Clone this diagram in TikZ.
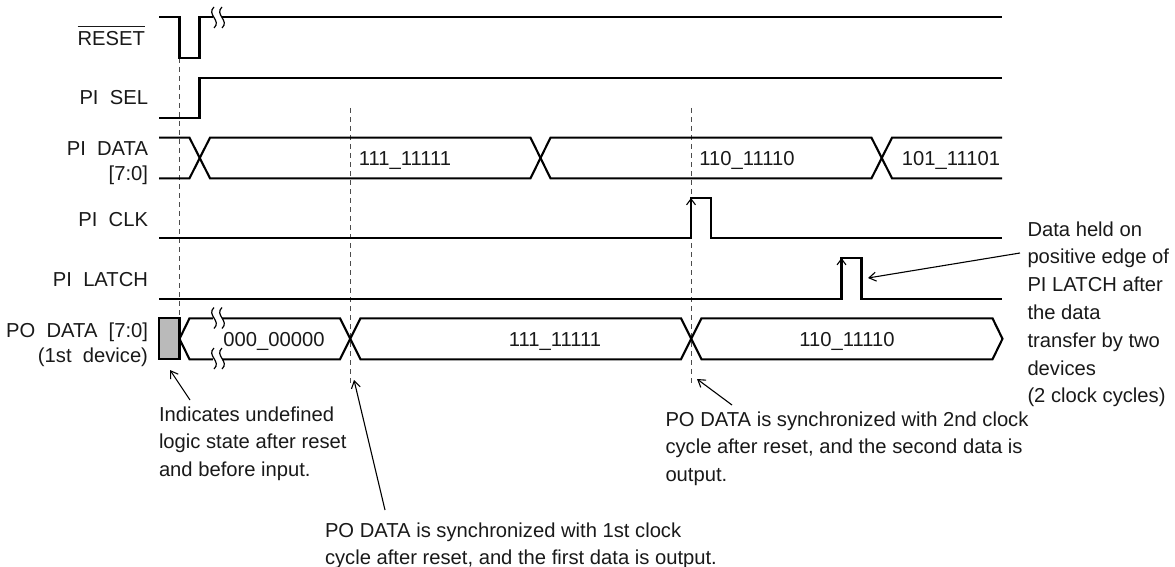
\documentclass[tikz,border=0pt]{standalone}
\usepackage{fontspec}
\setmainfont{Liberation Sans}
\usetikzlibrary{arrows.meta}
\tikzset{
  x=1pt,y=-1pt,
  wave/.style={line width=2.1pt,line join=miter,black},
  guide/.style={line width=1pt,dash pattern=on 5pt off 4pt,black!70},
  breakmark/.style={line width=1.2pt,black},
  callout/.style={line width=1.1pt,-{Straight Barb[length=7pt,width=9pt]}},
  edgemark/.style={line width=1.1pt,-{Straight Barb[length=6pt,width=9pt]}},
  txt/.style={inner sep=0pt,outer sep=0pt,text=black!90,font=\fontsize{20.2}{27.8}\selectfont},
  sig/.style={txt,align=right,anchor=base east},
  sigtwo/.style={txt,align=right,anchor=north east,font=\fontsize{20.2}{25}\selectfont},
  note/.style={txt,align=left,anchor=north west},
  bits/.style={txt,anchor=base},
}
\newcommand{\brk}[2]{%
  \fill[white] (#1-1,#2-10) rectangle (#1+8,#2+11);
  \draw[breakmark] (#1,#2-10.5) .. controls (#1-8,#2-3) and (#1+8,#2+3) .. (#1,#2+10.5);
  \draw[breakmark] (#1+8,#2-10.5) .. controls (#1,#2-3) and (#1+16,#2+3) .. (#1+8,#2+10.5);
}
\begin{document}
\begin{tikzpicture}
\useasboundingbox (0,0) rectangle (1175,567);
% guides
\coordinate (g1a) at (179.5,58); \coordinate (g1b) at (179.5,318);
\coordinate (g2a) at (350,108); \coordinate (g2b) at (350,385);
\coordinate (g3a) at (691,108); \coordinate (g3b) at (691,385);
\draw[guide] (g1a)--(g1b);
\draw[guide] (g2a)--(g2b);
\draw[guide] (g3a)--(g3b);
% RESET
\draw[wave] (159,17.4)-|(179.5,57.7)-|(199.5,17.4)--(1002,17.4);
\brk{214}{17.5}
% PI SEL
\draw[wave] (159,117.7)-|(199.5,77.7)--(1002,77.7);
% PI DATA
\draw[wave] (159,137.7)--(189.5,137.7)--(210,178.3)--(530.5,178.3)--(550.5,137.7)--(871.5,137.7)--(892,178.3)--(1002,178.3);
\draw[wave] (159,178.3)--(189.5,178.3)--(210,137.7)--(530.5,137.7)--(550.5,178.3)--(871.5,178.3)--(892,137.7)--(1002,137.7);
% PI CLK
\draw[wave] (159,238.3)-|(691,198.3)-|(711,238.3)--(1002,238.3);
\draw[edgemark] (691,238)--(691,198);
% PI LATCH
\draw[wave] (159,298.7)-|(841.5,258.3)-|(861.5,298.7)--(1002,298.7);
\draw[edgemark] (841.5,298)--(841.5,258);
% PO DATA
\draw[wave,fill=black!27] (159,318.3) rectangle (179.5,359.3);
\draw[wave] (179.5,338.8)--(189.5,318.3)--(340,318.3)--(360.5,359.3)--(681,359.3)--(701.5,318.3)--(992.5,318.3)--(1002.5,338.8)--(992.5,359.3)--(701.5,359.3)--(681,318.3)--(360.5,318.3)--(340,359.3)--(189.5,359.3)--cycle;
\brk{214}{318}
\brk{214}{358.5}
% signal labels
\node[sig] (lreset) at (145,46) {\vbox{\hrule height 0.9pt\kern 5pt\hbox{RESET}}};
\node[sig] (lsel) at (148,105) {PI\ \ SEL};
\node[sigtwo] (ldata) at (148,141.5) {PI\ \ DATA\\{[7:0]}};
\node[sig] (lclk) at (148,226) {PI\ \ CLK};
\node[sig] (llatch) at (148,286) {PI\ \ LATCH};
\node[sigtwo] (lpo) at (148,322.5) {PO\ \ DATA\ \ [7:0]\\(1st\ \ device)};
% values
\node[bits] (v1) at (405,165) {111\_11111};
\node[bits] (v2) at (747,165) {110\_11110};
\node[bits] (v3) at (951,165) {101\_11101};
\node[bits] (v4) at (274,346) {000\_00000};
\node[bits] (v5) at (555,346) {111\_11111};
\node[bits] (v6) at (847,346) {110\_11110};
% notes
\node[note] (n1) at (159,406.5) {Indicates undefined\\logic state after reset\\and before input.};
\node[note] (n2) at (325,522.5) {PO DATA is synchronized with 1st clock\\cycle after reset, and the first data is output.};
\node[note] (n3) at (665.5,411.5) {PO DATA is synchronized with 2nd clock\\cycle after reset, and the second data is\\output.};
\node[note] (n4) at (1027.5,221.5) {Data held on\\positive edge of\\PI LATCH after\\the data\\transfer by two\\devices\\(2 clock cycles)};
% callouts
\coordinate (a1) at (170,370); \coordinate (a1s) at (190,400);
\coordinate (a2) at (354,380); \coordinate (a2s) at (385,510);
\coordinate (a3) at (697,379); \coordinate (a3s) at (732,405);
\coordinate (a4) at (868,278); \coordinate (a4s) at (1020,253);
\draw[callout] (a1s)--(a1);
\draw[callout] (a2s)--(a2);
\draw[callout] (a3s)--(a3);
\draw[callout] (a4s)--(a4);
\end{tikzpicture}
\end{document}
